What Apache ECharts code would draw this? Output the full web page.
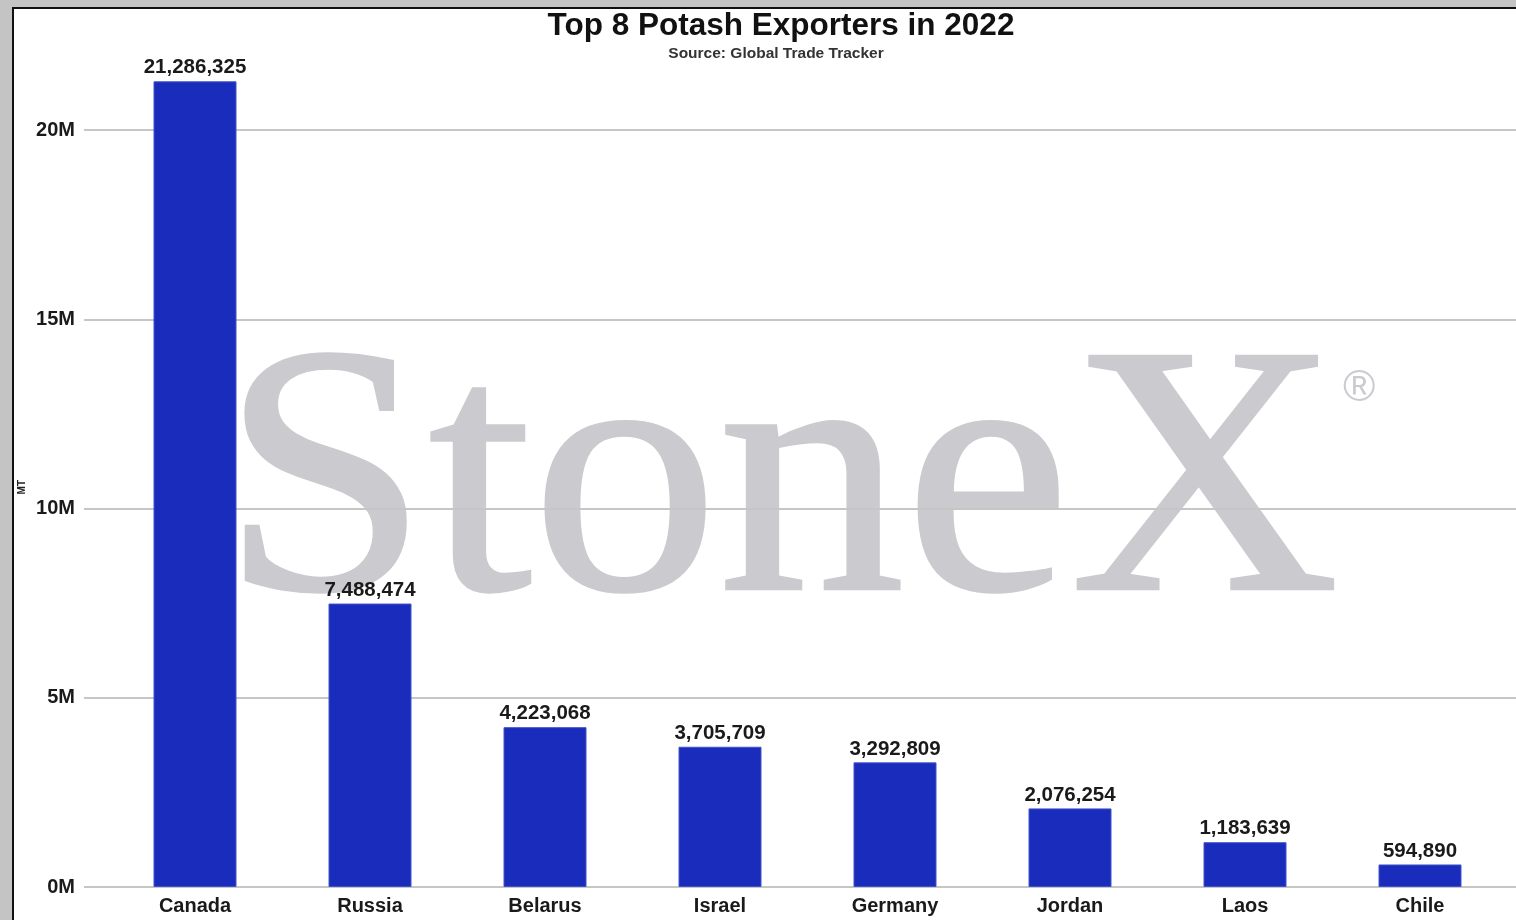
<!DOCTYPE html>
<html>
<head>
<meta charset="utf-8">
<script src="https://cdn.jsdelivr.net/npm/echarts@6/dist/echarts.min.js"></script>
<style>
	html, body { margin: 0; padding: 0; background: #fff; }
	#main { width: 1516px; height: 920px; }
</style>
</head>
<body>
<div id="main"></div>
<script>
const countries = ['Canada', 'Russia', 'Belarus', 'Israel', 'Germany', 'Jordan', 'Laos', 'Chile']
const exports2022 = [21286325, 7488474, 4223068, 3705709, 3292809, 2076254, 1183639, 594890]
const yTicks = [0, 5000000, 10000000, 15000000, 20000000]

const font = 'Liberation Sans, Arial, sans-serif'
const chart = echarts.init(document.getElementById('main'))

const options = {
	animation: false,
	title: [
		{
			text: 'Top 8 Potash Exporters in 2022',
			left: 776,
			top: 5,
			textAlign: 'center',
			textStyle: { fontFamily: font, fontSize: 31.5, fontWeight: 'bold', color: '#111' },
		},
		{
			text: 'Source: Global Trade Tracker',
			left: 771,
			top: 41,
			textAlign: 'center',
			textStyle: { fontFamily: font, fontSize: 15.5, fontWeight: 'bold', color: '#333' },
		},
	],
	graphic: [
		// frame: grey shadow strips and dark border
		{ type: 'rect', left: 0, top: 0, shape: { width: 12, height: 920 }, style: { fill: '#c4c4c4' }, z: -10 },
		{ type: 'rect', left: 0, top: 0, shape: { width: 1516, height: 7 }, style: { fill: '#c4c4c4' }, z: -10 },
		{ type: 'rect', left: 12, top: 7, shape: { width: 2, height: 913 }, style: { fill: '#111' }, z: -9 },
		{ type: 'rect', left: 12, top: 7, shape: { width: 1504, height: 2 }, style: { fill: '#111' }, z: -9 },
		// watermark
		{
			type: 'text',
			x: 221,
			y: 318,
			scaleX: 1.05,
			z: -5,
			style: {
				text: 'StoneX',
				font: '355px "Liberation Serif", "Times New Roman", serif',
				fill: '#cbcbcf',
				stroke: '#cbcbcf',
				lineWidth: 3,
			},
		},
		{
			type: 'text',
			left: 1343,
			top: 367,
			z: -5,
			style: {
				text: '®',
				font: '44px "Liberation Sans", Arial, sans-serif',
				fill: '#cbcbcf',
			},
		},
		{
			type: 'text',
			left: 17,
			top: 480,
			rotation: Math.PI / 2,
			style: {
				text: 'MT',
				font: 'bold 10px "Liberation Sans", Arial, sans-serif',
				fill: '#222',
			},
		},
	],
	grid: [
		{ left: 84, right: 0, top: 130, bottom: 33 },
		{ left: 107.5, right: 8.5, top: 130, bottom: 33 },
	],
	xAxis: [
		{ type: 'value', gridIndex: 0, show: false, min: 0, max: 1 },
		{
			type: 'category',
			gridIndex: 1,
			data: countries,
			axisLine: { show: false },
			axisTick: { show: false },
			axisLabel: { fontFamily: font, fontSize: 20, fontWeight: 'bold', color: '#1a1a1a', margin: 9 },
		},
	],
	yAxis: [
		{
			type: 'value',
			gridIndex: 0,
			min: yTicks[0],
			max: yTicks[yTicks.length - 1],
			interval: 5000000,
			axisLine: { show: false },
			axisTick: { show: false },
			splitLine: { lineStyle: { color: '#c6c6c6', width: 2 } },
			axisLabel: {
				fontFamily: font,
				fontSize: 20,
				fontWeight: 'bold',
				color: '#1a1a1a',
				margin: 9,
				formatter: v => v / 1000000 + 'M',
			},
		},
		{
			type: 'value',
			gridIndex: 1,
			min: yTicks[0],
			max: yTicks[yTicks.length - 1],
			interval: 5000000,
			show: false,
		},
	],
	series: [
		{
			type: 'bar',
			xAxisIndex: 1,
			yAxisIndex: 1,
			data: exports2022,
			barWidth: 83,
			clip: false,
			itemStyle: { color: '#1a2cbb', borderColor: '#4252cc', borderWidth: 1 },
			label: {
				show: true,
				position: 'top',
				distance: 3,
				fontFamily: font,
				fontSize: 20.5,
				fontWeight: 'bold',
				color: '#1a1a1a',
				formatter: p => p.value.toLocaleString('en-US'),
			},
		},
	],
}
chart.setOption(options)
</script>
</body>
</html>
